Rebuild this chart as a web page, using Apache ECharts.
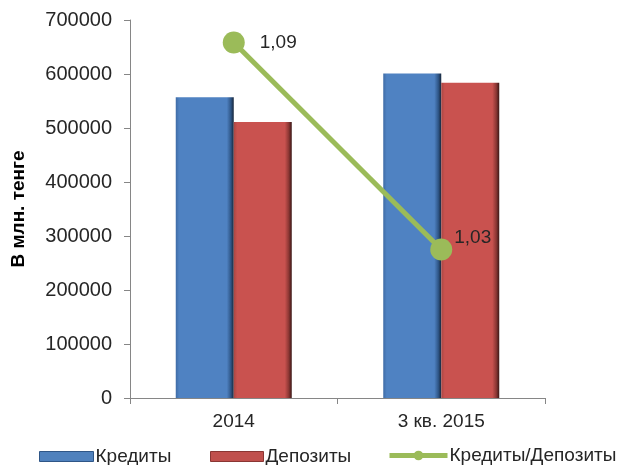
<!DOCTYPE html>
<html>
<head>
<meta charset="utf-8">
<script src="https://cdn.jsdelivr.net/npm/echarts@6/dist/echarts.min.js"></script>
<style>
  html, body { margin: 0; padding: 0; background: #fff; }
  #chart { width: 622px; height: 465px; }
</style>
</head>
<body>
<div id="chart"></div>
<script>
// values
const categories = ['2014', '3 кв. 2015'];
const credits = [557000, 601000];
const deposits = [511000, 584000];
const ratio = [1.09, 1.03];
const yTicks = { min: 0, max: 700000, interval: 100000 };

const font = 'Liberation Sans, Arial, sans-serif';
const textColor = '#262626';
const axisColor = '#868686';

function barGradient(edge, main, dark, darker) {
  return new echarts.graphic.LinearGradient(0, 0, 1, 0, [
    { offset: 0, color: edge },
    { offset: 0.06, color: main },
    { offset: 0.88, color: main },
    { offset: 0.95, color: dark },
    { offset: 1, color: darker },
  ]);
}

const blue = barGradient('#3f6ca6', '#4f82c2', '#2f5687', '#17263a');
const red = barGradient('#a94643', '#c9524f', '#8a3633', '#3a1716');
const green = '#9bbb59';

const legendText = { fontSize: 19, color: textColor, fontFamily: font, padding: [0, 0, 0, -3] };

const chart = echarts.init(document.getElementById('chart'));

chart.setOption({
  animation: false,
  textStyle: { fontFamily: font },
  grid: { left: 130, right: 77, top: 20, bottom: 67 },
  legend: [
    {
      left: 34, top: 442,
      itemWidth: 54, itemHeight: 10, itemGap: 0,
      icon: 'rect',
      data: [{ name: 'Кредиты', itemStyle: { color: '#4f81bd', borderColor: '#2f5687', borderWidth: 1 } }],
      textStyle: legendText,
    },
    {
      left: 205, top: 442,
      itemWidth: 53, itemHeight: 10, itemGap: 0,
      icon: 'rect',
      data: [{ name: 'Депозиты', itemStyle: { color: '#c0504d', borderColor: '#8a3633', borderWidth: 1 } }],
      textStyle: legendText,
    },
    {
      left: 382, top: 441,
      itemWidth: 58, itemHeight: 12, itemGap: 0,
      data: [{ name: 'Кредиты/Депозиты', lineStyle: { width: 5, color: green } }],
      textStyle: legendText,
    },
  ],
  xAxis: {
    type: 'category',
    data: categories,
    axisLine: { lineStyle: { color: axisColor, width: 1 } },
    axisTick: { show: true, length: 6, lineStyle: { color: axisColor } },
    axisLabel: { fontSize: 19, color: textColor, margin: 14, fontFamily: font },
  },
  yAxis: [
    {
      type: 'value',
      min: yTicks.min,
      max: yTicks.max,
      interval: yTicks.interval,
      name: 'В млн. тенге',
      nameLocation: 'middle',
      nameGap: 102,
      nameTextStyle: { fontSize: 19, fontWeight: 'bold', color: '#000', fontFamily: font },
      axisLine: { show: true, lineStyle: { color: axisColor, width: 1 } },
      axisTick: { show: true, length: 6, lineStyle: { color: axisColor } },
      axisLabel: { fontSize: 20, color: textColor, margin: 18, fontFamily: font, formatter: (v) => String(v) },
      splitLine: { show: false },
    },
    {
      type: 'value',
      show: false,
      min: 0.987,
      max: 1.0965,
      splitLine: { show: false },
    },
  ],
  series: [
    {
      name: 'Кредиты',
      type: 'bar',
      barWidth: 58,
      barGap: '0%',
      itemStyle: { color: blue },
      data: credits,
    },
    {
      name: 'Депозиты',
      type: 'bar',
      barWidth: 58,
      itemStyle: { color: red },
      data: deposits,
    },
    {
      name: 'Кредиты/Депозиты',
      type: 'line',
      yAxisIndex: 1,
      symbol: 'circle',
      symbolSize: 22,
      itemStyle: { color: green },
      lineStyle: { color: green, width: 5 },
      emphasis: { disabled: true },
      label: {
        show: true,
        position: 'right',
        distance: 15,
        fontSize: 19,
        color: textColor,
        fontFamily: font,
        formatter: (p) => p.value.toFixed(2).replace('.', ','),
      },
      data: ratio.map((v, i) => i === 1 ? { value: v, label: { distance: 2, offset: [0, -12] } } : v),
      z: 5,
    },
  ],
});
</script>
</body>
</html>
